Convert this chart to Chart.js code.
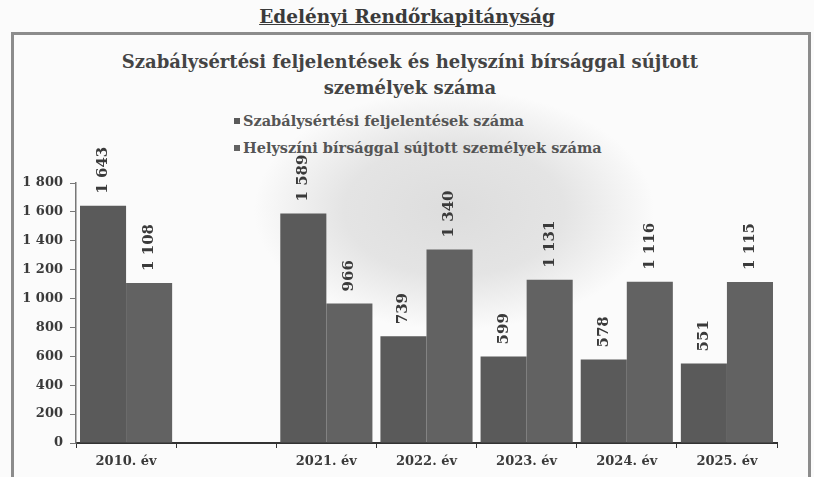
<!DOCTYPE html>
<html lang="hu">
<head>
  <meta charset="UTF-8" />
  <title>Edelényi Rendőrkapitányság</title>
  <script src="https://cdn.jsdelivr.net/npm/chart.js"></script>
  <style>
    body { margin: 0; width: 814px; height: 477px; overflow: hidden; background: #fbfbfb; position: relative;
           font-family: "DejaVu Serif", "Liberation Serif", serif; font-weight: bold; color: #3a3a3a; }
    #fejlec { position: absolute; top: 6px; left: 0; width: 814px; text-align: center; font-size: 18.5px; text-decoration: underline; }
    #keret { position: absolute; left: 11px; top: 32px; width: 794px; height: 460px; border: 3px solid #8c8c8c; border-bottom: none;
             background: radial-gradient(ellipse 200px 120px at 440px 175px, #dddddd 0%, #e4e4e4 55%, rgba(251,251,251,0) 100%); }
    #cim { position: absolute; top: 49px; left: 0; width: 820px; text-align: center; font-size: 18px; line-height: 26px; color: #444; }
    #jelmagyarazat { position: absolute; left: 234px; top: 107px; font-size: 14.5px; line-height: 27px; color: #555; }
    #jelmagyarazat span.negyzet { display: inline-block; width: 6px; height: 6px; margin-right: 3px; vertical-align: 2px; }
    #rajz { position: absolute; left: 0; top: 100px; width: 814px; height: 377px; }
  </style>
</head>
<body>

  <div id="fejlec">Edelényi Rendőrkapitányság</div>
  <div id="keret"></div>
  <div id="cim">Szabálysértési feljelentések és helyszíni bírsággal sújtott<br>személyek száma</div>
  <div id="jelmagyarazat"></div>
  <div id="rajz"><canvas id="grafikon"></canvas></div>

  <script>
    const evek = ['2010. év', '', '2021. év', '2022. év', '2023. év', '2024. év', '2025. év'];
    const feljelentesek = [1643, null, 1589, 739, 599, 578, 551];
    const birsagoltak = [1108, null, 966, 1340, 1131, 1116, 1115];
    const sorozatNevek = ['Szabálysértési feljelentések száma', 'Helyszíni bírsággal sújtott személyek száma'];
    const yTengely = [0, 200, 400, 600, 800, 1000, 1200, 1400, 1600, 1800];

    const szinek = ['#5a5a5a', '#626262'];
    const betu = '"DejaVu Serif", "Liberation Serif", serif';

    // ezres tagolás szóközzel: 1 643
    const tagol = v => String(v).replace(/\B(?=(\d{3})+(?!\d))/g, ' ');

    // értékek elforgatva az oszlopok fölött
    const ertekFelirat = {
      id: 'ertekFelirat',
      afterDatasetsDraw(chart) {
        const ctx = chart.ctx;
        chart.data.datasets.forEach((ds, i) => {
          chart.getDatasetMeta(i).data.forEach((bar, j) => {
            const v = ds.data[j];
            if (v == null) return;
            ctx.save();
            ctx.translate(bar.x, bar.y - 12);
            ctx.rotate(-Math.PI / 2);
            ctx.font = 'bold 15px ' + betu;
            ctx.fillStyle = '#3a3a3a';
            ctx.textAlign = 'left';
            ctx.textBaseline = 'middle';
            ctx.fillText(tagol(v), 0, 0);
            ctx.restore();
          });
        });
      }
    };

    const chart = new Chart(document.getElementById('grafikon'), {
      type: 'bar',
      data: {
        labels: evek,
        datasets: [
          { label: sorozatNevek[0], data: feljelentesek, backgroundColor: szinek[0] },
          { label: sorozatNevek[1], data: birsagoltak, backgroundColor: szinek[1] }
        ]
      },
      options: {
        responsive: true,
        maintainAspectRatio: false,
        animation: false,
        datasets: { bar: { categoryPercentage: 0.92, barPercentage: 1.0 } },
        layout: { padding: { left: 10, right: 37, top: 83, bottom: 0 } },
        plugins: { legend: { display: false }, tooltip: { enabled: false } },
        scales: {
          x: {
            grid: { drawOnChartArea: false, tickLength: 5, color: '#333', offset: true },
            border: { color: '#333', width: 2 },
            ticks: { color: '#3a3a3a', font: { family: betu, size: 13, weight: 'bold' }, padding: 6, maxRotation: 0 },
            afterFit: s => { s.height = 34; }
          },
          y: {
            min: 0, max: 1800,
            afterBuildTicks: s => { s.ticks = yTengely.map(v => ({ value: v })); },
            grid: { drawOnChartArea: false, tickLength: 6, color: '#777' },
            border: { color: '#777', width: 1.5 },
            ticks: { color: '#3a3a3a', font: { family: betu, size: 13, weight: 'bold' }, padding: 7, callback: v => tagol(v) },
            afterFit: s => { s.width = 66; }
          }
        }
      },
      plugins: [ertekFelirat]
    });

    // jelmagyarázat egymás alatt, a grafikon adataiból
    document.getElementById('jelmagyarazat').innerHTML = chart.data.datasets
      .map(ds => `<div><span class="negyzet" style="background:${ds.backgroundColor}"></span>${ds.label}</div>`)
      .join('');
  </script>

</body>
</html>
